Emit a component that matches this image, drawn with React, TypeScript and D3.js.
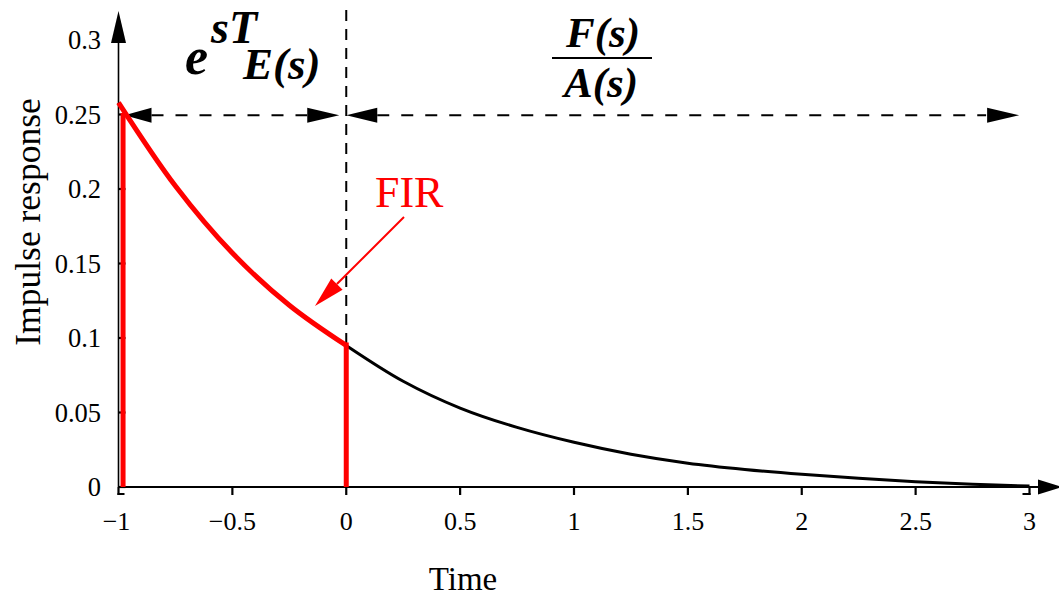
import React from "react";
import * as d3 from "d3";

const timeValues = [-1, -0.75, -0.5, -0.25, 0, 0.25, 0.5, 0.75, 1, 1.25, 1.5, 1.75, 2, 2.25, 2.5, 2.75, 3];
const responseValues = [0.258, 0.202, 0.157, 0.122, 0.095, 0.071, 0.053, 0.04, 0.03, 0.022, 0.016, 0.0118, 0.0085, 0.0058, 0.0036, 0.0019, 0.0006];
const firTimes = [-1, -0.75, -0.5, -0.25, 0];
const firValues = [0.258, 0.202, 0.157, 0.122, 0.095];
const firBars = [
  { t: -0.98, v: 0.251 },
  { t: 0, v: 0.097 },
];
const xTicks = [-1, -0.5, 0, 0.5, 1, 1.5, 2, 2.5, 3];
const xTickLabels = ["\u22121", "\u22120.5", "0", "0.5", "1", "1.5", "2", "2.5", "3"];
const yTicks = [0, 0.05, 0.1, 0.15, 0.2, 0.25, 0.3];
const yTickLabels = ["0", "0.05", "0.1", "0.15", "0.2", "0.25", "0.3"];
const arrowLevel = 0.2495;
const splitTime = 0;
const arrowEndTime = 2.95;

const W = 1059;
const H = 597;
const FONT = "'Liberation Serif', 'Times New Roman', serif";

export default function App() {
  const x = d3.scaleLinear().domain([-1, 3]).range([118.5, 1029.5]);
  const y = d3.scaleLinear().domain([0, 0.3]).range([487, 40]);

  const pts: [number, number][] = timeValues.map((t, i) => [t, responseValues[i]]);
  const firPts: [number, number][] = firTimes.map((t, i) => [t, firValues[i]]);
  const line = d3
    .line<[number, number]>()
    .x((d) => x(d[0]))
    .y((d) => y(d[1]))
    .curve(d3.curveCatmullRom);

  const x0 = x(-1);
  const y0 = y(0);
  const ya = y(arrowLevel);
  const xs = x(splitTime);
  const xe = x(arrowEndTime);

  const tri = (tipX: number, tipY: number, dir: "l" | "r" | "u", len: number, hw: number) => {
    if (dir === "l") return `M${tipX},${tipY} L${tipX + len},${tipY - hw} L${tipX + len},${tipY + hw} Z`;
    if (dir === "r") return `M${tipX},${tipY} L${tipX - len},${tipY - hw} L${tipX - len},${tipY + hw} Z`;
    return `M${tipX},${tipY} L${tipX - hw},${tipY + len} L${tipX + hw},${tipY + len} Z`;
  };

  // red annotation arrow
  const ax1 = 404, ay1 = 217, ax2 = 315, ay2 = 306;
  const ang = Math.atan2(ay2 - ay1, ax2 - ax1);
  const hl = 31, hw = 8;
  const bx = ax2 - hl * Math.cos(ang), by = ay2 - hl * Math.sin(ang);
  const px = -Math.sin(ang) * hw, py = Math.cos(ang) * hw;

  return (
    <svg width={W} height={H} style={{ position: "absolute", left: 0, top: 0, background: "#fff" }}>
      {/* axes */}
      <line x1={x0} y1={y0} x2={1040} y2={y0} stroke="#000" strokeWidth={2} />
      <path d={`M1062,${y0} L1038,${y0 - 7.5} L1038,${y0 + 7.5} Z`} fill="#000" />
      <line x1={x0} y1={y0} x2={x0} y2={30} stroke="#000" strokeWidth={1.6} />
      <path d={tri(x0, 11, "u", 32, 7.5)} fill="#000" />

      {xTicks.map((t, i) => (
        <g key={"xt" + i}>
          <line x1={x(t)} y1={y0} x2={x(t)} y2={y0 + 8} stroke="#000" strokeWidth={2.2} />
          <text x={x(t) - (i === 0 ? 2 : 0)} y={530} fontFamily={FONT} fontSize={26} textAnchor="middle">
            {xTickLabels[i]}
          </text>
        </g>
      ))}
      <line x1={x0 - 1} y1={y0 + 7} x2={x0 + 6} y2={y0 + 7} stroke="#000" strokeWidth={2} />
      <line x1={x(3) - 7} y1={y0 + 7} x2={x(3) + 1} y2={y0 + 7} stroke="#000" strokeWidth={2} />
      {yTicks.map((v, i) => (
        <g key={"yt" + i}>
          {i < yTicks.length - 1 && (
            <line x1={x0} y1={y(v)} x2={x0 + 7} y2={y(v)} stroke="#000" strokeWidth={2.2} />
          )}
          <text x={101} y={y(v) + 9} fontFamily={FONT} fontSize={26.5} textAnchor="end">
            {yTickLabels[i]}
          </text>
        </g>
      ))}

      {/* axis titles */}
      <text x={463} y={590} fontFamily={FONT} fontSize={33} textAnchor="middle">
        Time
      </text>
      <text
        transform={`translate(40,222) rotate(-90)`}
        fontFamily={FONT}
        fontSize={35.5}
        textAnchor="middle"
      >
        Impulse response
      </text>

      {/* vertical dashed split */}
      <line x1={xs} y1={10} x2={xs} y2={y(0.095)} stroke="#000" strokeWidth={2} strokeDasharray="11,8" />

      {/* horizontal dashed arrows */}
      <line x1={x0 + 33} y1={ya} x2={xs - 39} y2={ya} stroke="#000" strokeWidth={2} strokeDasharray="12,12" />
      <path d={tri(x0 + 6, ya, "l", 27, 7.5)} fill="#000" />
      <path d={tri(xs - 7, ya, "r", 32, 7.5)} fill="#000" />
      <line x1={xs + 31} y1={ya} x2={xe - 32} y2={ya} stroke="#000" strokeWidth={2} strokeDasharray="12,12" />
      <path d={tri(xs, ya, "l", 31, 7.5)} fill="#000" />
      <path d={tri(xe + 1, ya, "r", 32, 7.5)} fill="#000" />

      {/* curves */}
      <path d={line(pts) || ""} fill="none" stroke="#000" strokeWidth={3} />
      <path d={line(firPts) || ""} fill="none" stroke="#ff0000" strokeWidth={5} />
      {firBars.map((b, i) => (
        <line key={"fb" + i} x1={x(b.t)} y1={y0} x2={x(b.t)} y2={y(b.v)} stroke="#ff0000" strokeWidth={5} />
      ))}

      {/* FIR annotation */}
      <text x={375} y={207} fontFamily={FONT} fontSize={44} fill="#ff0000">
        FIR
      </text>
      <line x1={ax1} y1={ay1} x2={bx} y2={by} stroke="#ff0000" strokeWidth={2} />
      <path d={`M${ax2},${ay2} L${bx + px},${by + py} L${bx - px},${by - py} Z`} fill="#ff0000" />

      {/* e^{sT}_{E(s)} */}
      <text fontFamily={FONT} fontWeight="bold" fontStyle="italic">
        <tspan x={185} y={74} fontSize={52}>e</tspan>
        <tspan x={211} y={43} fontSize={46}>sT</tspan>
        <tspan x={243} y={79} fontSize={45}>E(s)</tspan>
      </text>

      {/* F(s)/A(s) */}
      <text x={603} y={47} fontFamily={FONT} fontWeight="bold" fontStyle="italic" fontSize={43} textAnchor="middle">
        F(s)
      </text>
      <line x1={552} y1={58} x2={652} y2={58} stroke="#000" strokeWidth={2} />
      <text x={601} y={97} fontFamily={FONT} fontWeight="bold" fontStyle="italic" fontSize={43} textAnchor="middle">
        A(s)
      </text>
    </svg>
  );
}
